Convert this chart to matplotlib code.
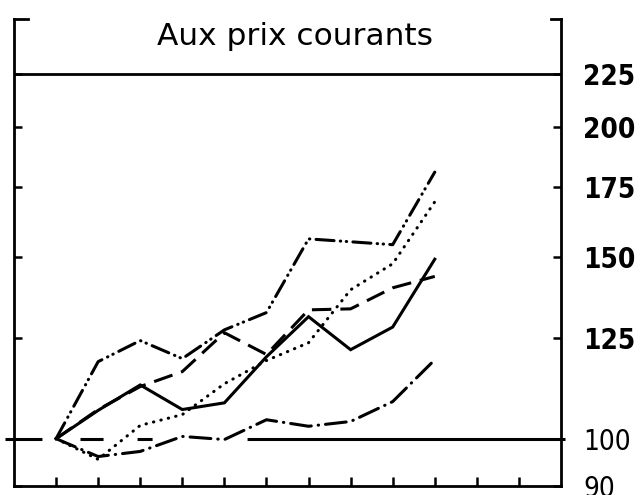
import matplotlib
matplotlib.use('Agg')
import matplotlib.pyplot as plt
from matplotlib import font_manager
from matplotlib.ticker import NullLocator, FixedLocator

# indices, base 100 au premier point
annees      = list(range(1, 11))
trait_plein = [100, 106.5, 112.7, 106.7, 108.3, 120.0, 131.2, 121.9, 128.2, 149.1]
pointille   = [100, 95.5, 103.0, 105.5, 113.0, 119.0, 123.8, 139.3, 147.6, 169.4]
tirets      = [100, 106.7, 112.3, 116.1, 126.6, 120.6, 133.2, 133.5, 139.9, 143.5]
tiret_2pts  = [100, 118.7, 124.4, 119.5, 127.4, 132.4, 156.0, 155.0, 154.0, 181.0]
tiret_pt    = [100, 96.1, 97.2, 100.5, 99.8, 104.3, 102.8, 103.9, 108.6, 119.2]

base        = 100
haut_cadre  = 225
yticks      = [90, 100, 125, 150, 175, 200, 225]
xticks      = list(range(1, 13))
titre       = 'Aux prix courants'

plt.rcParams['lines.scale_dashes'] = False

# police etroite pour les chiffres si elle existe
etroit = None
for f in font_manager.fontManager.ttflist:
	if f.name == 'Liberation Sans Narrow': etroit = ('Liberation Sans Narrow', 'normal')
if etroit is None:
	for f in font_manager.fontManager.ttflist:
		if f.name == 'DejaVu Sans' and f.stretch in ('condensed', 'semi-condensed', 300):
			etroit = ('DejaVu Sans', 'condensed')

fig = plt.figure(figsize=(6.41, 4.95), dpi=100)
ax  = fig.add_axes([14/641., 9/495., 547/641., 467/495.])
ax.set_yscale('log')
ax.set_xlim(0, 13)
ax.set_ylim(90, 254.5)

lw = 2.2
ax.plot(annees, trait_plein, color='k', lw=lw, solid_joinstyle='miter')
ax.plot(annees, pointille, color='k', lw=lw, dashes=(0.3, 5.2), dash_capstyle='round')
ax.plot(annees, tirets, color='k', lw=lw, dashes=(14, 6.5))
ax.plot(annees, tiret_2pts, color='k', lw=lw, dashes=(13, 4.5, 0.3, 4.0, 0.3, 4.5), dash_capstyle='round')
ax.plot(annees, tiret_pt, color='k', lw=lw, dashes=(15, 5.0, 0.3, 5.0), dash_capstyle='round')

# ligne 100, interrompue a gauche
ax.axhline(base, xmin=-0.0165, xmax=1.008, color='k', lw=lw, clip_on=False,
           dashes=(26.6, 27.4, 16.6, 24.5, 10.8, 68.4, 400, 10))
# ligne du haut (225) sous le titre
ax.axhline(haut_cadre, color='k', lw=2.0)

########## cadre ##########
for s in ['left', 'right', 'bottom']:
	ax.spines[s].set_linewidth(2.0)
ax.spines['top'].set_visible(False)
ax.plot([0, 0.025], [1, 1], color='k', lw=2.0, transform=ax.transAxes, clip_on=False, solid_capstyle='projecting')
ax.plot([0.982, 1], [1, 1], color='k', lw=2.0, transform=ax.transAxes, clip_on=False, solid_capstyle='projecting')

ax.xaxis.set_major_locator(FixedLocator(xticks))
ax.xaxis.set_minor_locator(NullLocator())
ax.tick_params(axis='x', direction='in', length=6.5, width=1.8, labelbottom=False)

ax.yaxis.set_major_locator(FixedLocator(yticks))
ax.yaxis.set_minor_locator(NullLocator())
ax.set_yticklabels([str(v) for v in yticks])
ax.tick_params(axis='y', which='major', left=True, right=True, labelleft=False, labelright=True,
               direction='in', length=6, width=1.8, pad=16)
for lab, v in zip(ax.get_yticklabels(), yticks):
	if etroit is not None:
		lab.set_fontfamily(etroit[0])
		lab.set_fontstretch(etroit[1])
		lab.set_fontsize(20)
	else:
		lab.set_fontsize(17)
	if v > 100: lab.set_fontweight('bold')

ax.text(0.514, 0.944, titre, transform=ax.transAxes, ha='center', va='baseline', fontsize=22.5)

plt.savefig('out.png', dpi=100)
